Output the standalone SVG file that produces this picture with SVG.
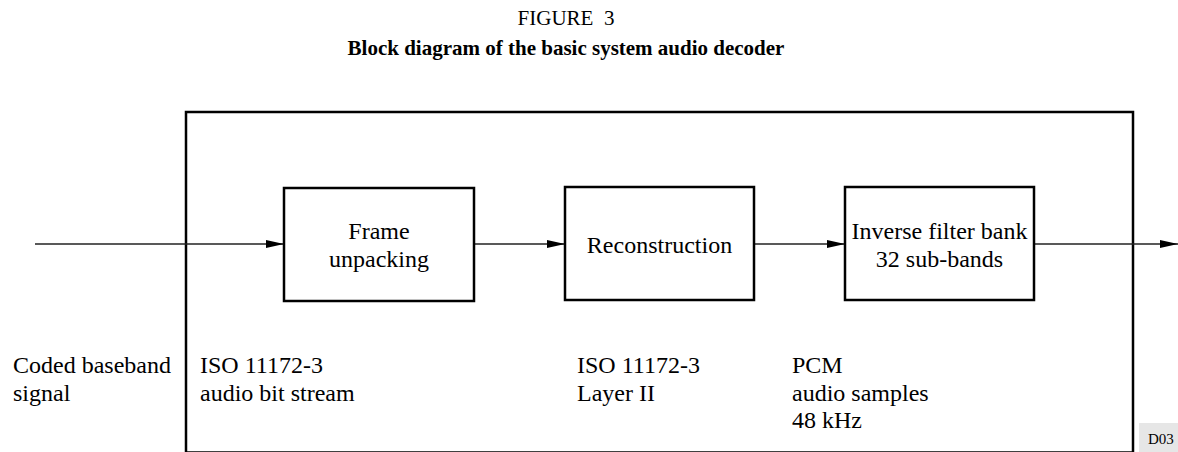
<svg xmlns="http://www.w3.org/2000/svg" width="1178" height="452" viewBox="0 0 1178 452" font-family="'Liberation Serif', 'Times New Roman', serif">
<style>
text{font-family:"Liberation Serif","Times New Roman",Times,serif;fill:#000}
.t{font-size:21px}
.tb{font-size:21px;font-weight:bold}
.n{font-size:24px}
.c{text-anchor:middle}
.box{fill:#fff;stroke:#000;stroke-width:2.5}
.frame{fill:none;stroke:#000;stroke-width:2.5}
.conn{fill:none;stroke:#222;stroke-width:1.3;marker-end:url(#ah)}
</style>
<defs>
<marker id="ah" markerUnits="userSpaceOnUse" markerWidth="19" markerHeight="9" refX="18" refY="4" orient="auto" overflow="visible">
<path d="M0,0 L18,4 L0,8 Z" fill="#000"/>
</marker>
</defs>
<rect width="1178" height="452" fill="#fff"/>
<g id="title">
<text class="t c" x="566" y="25" xml:space="preserve">FIGURE  3</text>
<text class="tb c" x="566" y="55">Block diagram of the basic system audio decoder</text>
</g>
<g id="decoder-frame">
<rect class="frame" x="186" y="112" width="947" height="340.5"/>
</g>
<g id="connectors">
<line class="conn" x1="35" y1="244" x2="284" y2="244"/>
<line class="conn" x1="474" y1="244" x2="565" y2="244"/>
<line class="conn" x1="754" y1="244" x2="845" y2="244"/>
<line class="conn" x1="1034" y1="244" x2="1178" y2="244"/>
</g>
<g id="frame-unpacking">
<rect class="box" x="284" y="188" width="190" height="113"/>
<text class="n c" x="379" y="239">Frame</text>
<text class="n c" x="379" y="267">unpacking</text>
</g>
<g id="reconstruction">
<rect class="box" x="565" y="187" width="189" height="113"/>
<text class="n c" x="659.5" y="253">Reconstruction</text>
</g>
<g id="inverse-filter-bank">
<rect class="box" x="845" y="187" width="189" height="113"/>
<text class="n c" x="939.5" y="239">Inverse filter bank</text>
<text class="n c" x="939.5" y="267">32 sub-bands</text>
</g>
<g id="labels">
<text class="n" x="13" y="373">Coded baseband</text>
<text class="n" x="13" y="400.5">signal</text>
<text class="n" x="200" y="373">ISO 11172-3</text>
<text class="n" x="200" y="400.5">audio bit stream</text>
<text class="n" x="577" y="373">ISO 11172-3</text>
<text class="n" x="577" y="400.5">Layer II</text>
<text class="n" x="792" y="373">PCM</text>
<text class="n" x="792" y="400.5">audio samples</text>
<text class="n" x="792" y="428">48 kHz</text>
</g>
<g id="ref-tag">
<rect x="1139" y="423" width="39" height="29" fill="#e6e6e6"/>
<text x="1148" y="444" style="font-size:15px">D03</text>
</g>
</svg>
